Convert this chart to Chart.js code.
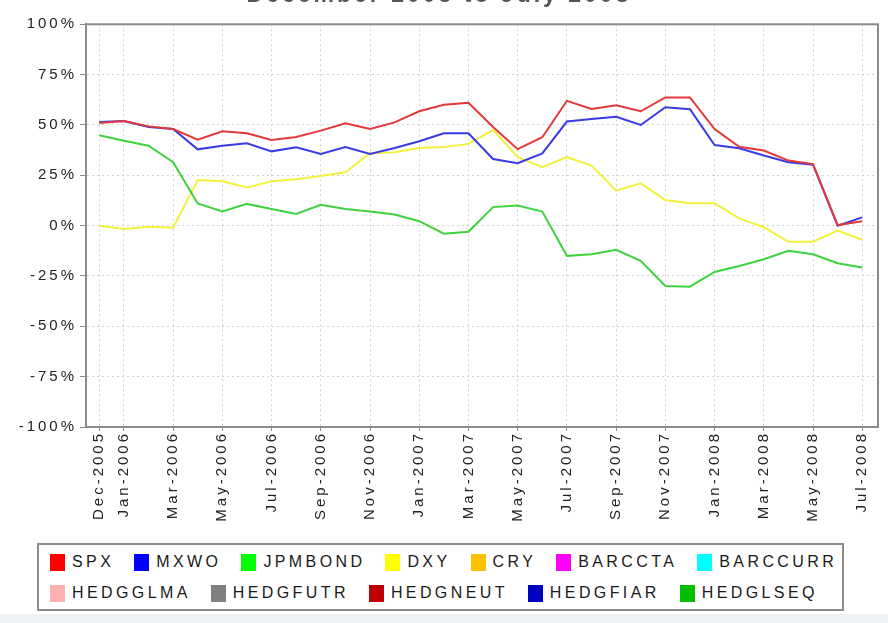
<!DOCTYPE html>
<html>
<head>
<meta charset="utf-8">
<script src="https://cdn.jsdelivr.net/npm/chart.js@4/dist/chart.umd.min.js"></script>
<style>
html,body{margin:0;padding:0;background:#fff;}
#wrap{position:relative;width:888px;height:623px;overflow:hidden;background:#fff;}
#cv{position:absolute;left:0;top:-30px;width:888px;height:565px;}
#strip{position:absolute;left:0;top:614px;width:888px;height:9px;background:#eef1f5;}
#legend{position:absolute;left:37px;top:543px;width:803px;height:64px;border:2px solid #8c8c8c;background:#fff;
  font-family:"Liberation Sans",Arial,sans-serif;font-size:16px;color:#1a1a1a;letter-spacing:3.4px;}
.row{position:absolute;left:11px;display:flex;align-items:center;height:20px;white-space:nowrap;}
.item{display:flex;align-items:center;margin-right:20px;}
.box{width:15px;height:17px;margin-right:7px;flex:none;}
</style>
</head>
<body>
<div id="wrap">
  <canvas id="cv" width="888" height="565"></canvas>
  <div id="legend"><div class="row" id="row1" style="top:7px"></div><div class="row" id="row2" style="top:38px"></div></div>
  <div id="strip"></div>
</div>
<script>
// ---- data ----
const categories = ['Dec-2005','Jan-2006','Feb-2006','Mar-2006','Apr-2006','May-2006','Jun-2006','Jul-2006','Aug-2006','Sep-2006','Oct-2006','Nov-2006',
  'Dec-2006','Jan-2007','Feb-2007','Mar-2007','Apr-2007','May-2007','Jun-2007','Jul-2007','Aug-2007','Sep-2007','Oct-2007','Nov-2007',
  'Dec-2007','Jan-2008','Feb-2008','Mar-2008','Apr-2008','May-2008','Jun-2008','Jul-2008'];
const xTickLabels = ['Dec-2005','Jan-2006','Mar-2006','May-2006','Jul-2006','Sep-2006','Nov-2006','Jan-2007','Mar-2007',
  'May-2007','Jul-2007','Sep-2007','Nov-2007','Jan-2008','Mar-2008','May-2008','Jul-2008'];
const SPX = [51, 52, 49.3, 48, 42.7, 46.9, 45.9, 42.5, 44, 47.2, 50.8, 48, 51.3, 56.8, 60, 61, 49, 38, 43.9, 62, 58, 59.8, 56.8, 63.7, 63.7, 48, 39.2, 37.3, 32.3, 30.6, 0.3, 2.2];
const MXWO = [51.5, 52, 49, 48, 37.9, 39.7, 40.9, 36.9, 38.9, 35.6, 39, 35.6, 38.6, 41.9, 45.9, 45.9, 33.1, 31, 35.9, 51.7, 53, 54.1, 50, 58.8, 57.8, 40, 38.4, 34.8, 31.5, 30.3, 0, 4.1];
const JPMBOND = [44.9, 42.2, 39.7, 31.5, 11, 7, 10.8, 8.3, 5.8, 10.4, 8.3, 7, 5.5, 2.2, -4, -3, 9.2, 10, 7, -15, -14.2, -12, -17.5, -30, -30.3, -23, -20, -16.7, -12.5, -14.2, -18.7, -20.8];
const DXY = [0, -1.7, -0.5, -1, 22.7, 22, 19, 22, 23, 24.7, 26.5, 36, 36.4, 38.6, 39, 40.6, 47.5, 34, 29, 34, 29.8, 17.4, 21, 12.7, 11.1, 11.1, 3.6, -0.8, -8, -8, -2.5, -7];
const CRY = [], BARCCTA = [], BARCCURR = [], HEDGGLMA = [], HEDGFUTR = [], HEDGNEUT = [], HEDGFIAR = [], HEDGLSEQ = [];
const seriesNames = ['SPX','MXWO','JPMBOND','DXY','CRY','BARCCTA','BARCCURR','HEDGGLMA','HEDGFUTR','HEDGNEUT','HEDGFIAR','HEDGLSEQ'];
const seriesValues = [SPX, MXWO, JPMBOND, DXY, CRY, BARCCTA, BARCCURR, HEDGGLMA, HEDGFUTR, HEDGNEUT, HEDGFIAR, HEDGLSEQ];
const legendColors = ['#ff0000','#0000ff','#00ff00','#ffff00','#ffc000','#ff00ff','#00ffff','#ffafaf','#808080','#c00000','#0000c0','#00c000'];
const lineColors = ['#e23838','#3a3ae6','#3ed23e','#f2f23e','#ffc000','#ff00ff','#00ffff','#ffafaf','#808080','#c00000','#0000c0','#00c000'];

const FONT = '"Liberation Sans", Arial, sans-serif';
const GRID = '#d2d2d2', FRAME = '#8c8c8c', TEXT = '#222222';

const datasets = seriesNames.map((name, k) => ({
  label: name,
  data: seriesValues[k].map((v, i) => ({x: i, y: v})),
  borderColor: lineColors[k],
  backgroundColor: legendColors[k],
  borderWidth: 2,
  pointRadius: 0,
  tension: 0,
  fill: false
}));

const spacingPlugin = {
  id: 'spacing',
  beforeLayout(chart) { chart.ctx.letterSpacing = '3px'; },
  beforeDraw(chart) { chart.ctx.letterSpacing = '3px'; },
  afterDraw(chart) {
    const {ctx, chartArea: a} = chart;
    ctx.save();
    ctx.strokeStyle = FRAME;
    ctx.lineWidth = 2;
    ctx.setLineDash([]);
    ctx.strokeRect(a.left, a.top, a.right - a.left, a.bottom - a.top);
    ctx.restore();
  }
};

const chart = new Chart(document.getElementById('cv'), {
  type: 'line',
  data: { datasets },
  plugins: [spacingPlugin],
  options: {
    responsive: false,
    animation: false,
    layout: { padding: { left: 0, right: 10, top: 0, bottom: 0 } },
    plugins: {
      legend: { display: false },
      tooltip: { enabled: false },
      title: {
        display: true,
        text: 'December 2005 to July 2008',
        color: '#555555',
        font: { family: FONT, size: 23, weight: 'bold' },
        padding: { top: 12, bottom: 14.7 }
      }
    },
    scales: {
      x: {
        type: 'linear',
        min: -0.54,
        max: 31.64,
        afterBuildTicks(s) { s.ticks = xTickLabels.map(l => ({ value: categories.indexOf(l) })); },
        afterFit(s) { s.height = 108; s.paddingLeft = 0; s.paddingRight = 0; },
        ticks: {
          autoSkip: false, minRotation: 90, maxRotation: 90, padding: 0,
          color: TEXT, font: { family: FONT, size: 15 },
          callback: v => categories[v]
        },
        grid: { color: GRID, lineWidth: 1, drawTicks: true, tickLength: 4, tickColor: FRAME, tickBorderDash: [] },
        border: { display: true, color: FRAME, width: 2, dash: [2, 3] }
      },
      y: {
        min: -100,
        max: 100,
        afterFit(s) { s.width = 86; s.paddingTop = 0; s.paddingBottom = 0; },
        ticks: {
          stepSize: 25, padding: 3,
          color: TEXT, font: { family: FONT, size: 15 },
          callback: v => v + '%'
        },
        grid: { color: GRID, lineWidth: 1, drawTicks: true, tickLength: 6, tickColor: FRAME, tickBorderDash: [] },
        border: { display: true, color: FRAME, width: 2, dash: [2, 3] }
      }
    }
  }
});

// HTML legend built from the chart's own legend items
const items = Chart.defaults.plugins.legend.labels.generateLabels(chart);
items.forEach((it, idx) => {
  const el = document.createElement('div');
  el.className = 'item';
  const b = document.createElement('span');
  b.className = 'box';
  b.style.background = it.fillStyle;
  const t = document.createElement('span');
  t.textContent = it.text;
  el.appendChild(b); el.appendChild(t);
  document.getElementById(idx < 7 ? 'row1' : 'row2').appendChild(el);
});
</script>
</body>
</html>
